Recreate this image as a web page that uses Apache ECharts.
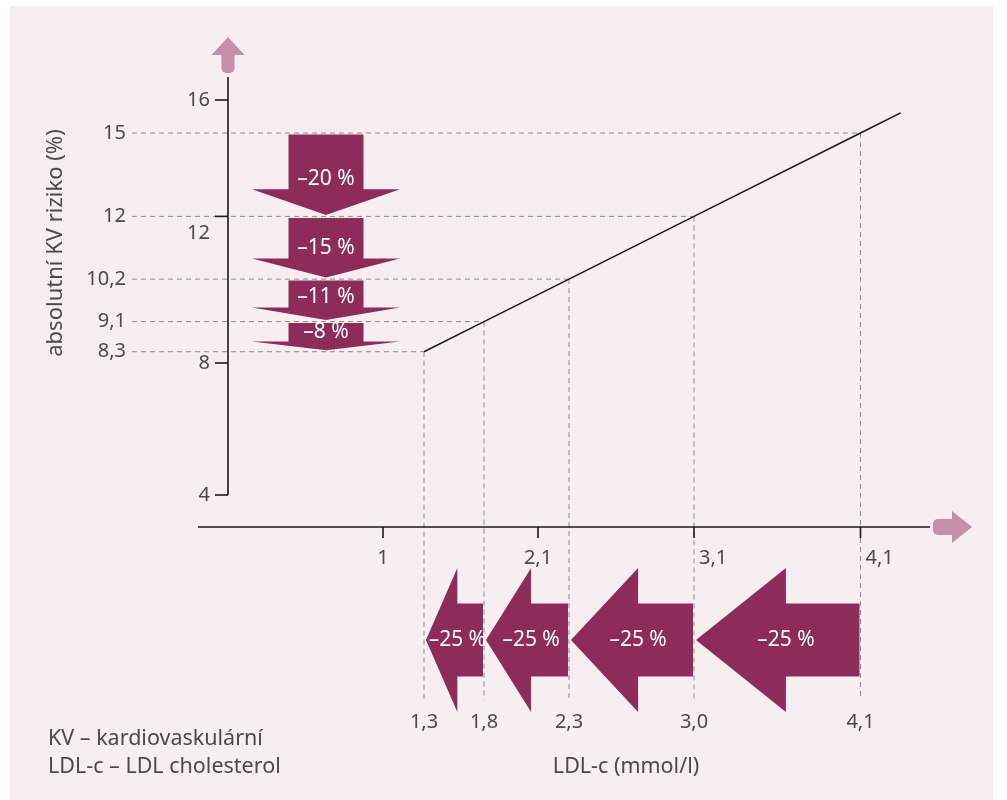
<!DOCTYPE html>
<html>
<head>
<meta charset="utf-8">
<script src="https://cdn.jsdelivr.net/npm/echarts@6/dist/echarts.min.js"></script>
<style>
html,body{margin:0;padding:0;background:#ffffff;}
#chart{width:1007px;height:800px;}
</style>
</head>
<body>
<div id="chart"></div>
<script>
// ================= DATA =================
const ldlLevels = [1.3, 1.8, 2.3, 3.0, 4.1];          // LDL-c (mmol/l)
const ldlLabels = ['1,3', '1,8', '2,3', '3,0', '4,1'];
const riskLevels = [8.3, 9.1, 10.2, 12, 15];           // absolute CV risk (%)
const riskLabels = ['8,3', '9,1', '10,2', '12', '15'];
const ldlReductions = [-25, -25, -25, -25];            // LDL step i+1 -> i
const riskReductions = [-8, -11, -15, -20];            // risk step i+1 -> i
const xTickValues = [1, 2.1, 3.1, 4.1];
const xTickLabels = ['1', '2,1', '3,1', '4,1'];
const yTickValues = [4, 8, 12, 16];
const yTickLabels = ['4', '8', '12', '16'];

// ================= SCHEMATIC AXIS CALIBRATION =================
// The figure's axes are drawn schematically (not linear); these tables
// calibrate value -> axis units for the hidden cartesian axes.
const xCalib = [[0, 228], [1, 383], [1.3, 424], [1.8, 484], [2.1, 538], [2.3, 569], [3.0, 694], [3.1, 694], [4.1, 860.5], [5, 1000]];
const yCalib = [[3, 527], [4, 495], [8, 363], [8.3, 351.7], [9.1, 321.6], [10.2, 279.1], [12, 216.4], [15, 133], [16, 100], [17, 70]];
function piecewise(calib) {
  return function (v) {
    for (let i = 0; i < calib.length - 1; i++) {
      const a = calib[i], b = calib[i + 1];
      if (v <= b[0] || i === calib.length - 2) {
        if (b[0] === a[0]) return b[1];
        return a[1] + (v - a[0]) / (b[0] - a[0]) * (b[1] - a[1]);
      }
    }
  };
}
const xs = piecewise(xCalib);
const ys = piecewise(yCalib);

// ================= LAYOUT / STYLE =================
const W = 1007, H = 800;
const FONT = '"Noto Sans", "DejaVu Sans", sans-serif';
const TEXT = '#4a4a4a';
const DARK = '#8d2c5a';
const PINK = '#c78fa9';
const DASH = '#8c8c8c';
const layout = {
  levelLabelRight: 126, hDashStart: 132, vDashEnd: 700,
  downArrowX: 326, downBodyHalf: 37.5, downHeadHalf: 74, downHeadFrac: 0.32,
  leftArrowY: 640, leftBodyHalf: 36.5, leftHeadHalf: 72, leftHeadFrac: 0.55,
  yAxisTop: 77, xAxisLeft: 198, xAxisRight: 930,
  bottomLabelY: 722, xTickLabelY: 558,
  lineExtend: 0.092
};
function pct(v) { return '\u2013' + Math.abs(v) + ' %'; }

const chart = echarts.init(document.getElementById('chart'), null, {renderer: 'canvas', width: W, height: H});

function txt(text, x, y, opts) {
  return {
    type: 'text',
    style: Object.assign({
      text: text, x: x, y: y, fill: TEXT, fontSize: 20, fontFamily: FONT,
      align: 'center', verticalAlign: 'middle'
    }, opts || {})
  };
}

// guides: dashed lines + level labels
const guideSeries = {
  type: 'custom', name: 'guides', coordinateSystem: 'cartesian2d', silent: true, z: 1,
  data: ldlLevels.map((l, i) => [l, riskLevels[i], i]),
  renderItem: function (params, api) {
    const l = api.value(0), r = api.value(1), i = api.value(2);
    const p = api.coord([xs(l), ys(r)]);
    const left = api.coord([layout.hDashStart, ys(r)]);
    const bottom = api.coord([xs(l), layout.vDashEnd]);
    const ds = {stroke: DASH, lineWidth: 1, lineDash: [5, 4]};
    return {
      type: 'group',
      children: [
        {type: 'line', shape: {x1: left[0], y1: p[1], x2: p[0], y2: p[1]}, style: ds},
        {type: 'line', shape: {x1: p[0], y1: p[1], x2: p[0], y2: bottom[1]}, style: ds},
        txt(riskLabels[i], api.coord([layout.levelLabelRight, 0])[0], p[1], {align: 'right'}),
        txt(ldlLabels[i], p[0], api.coord([0, layout.bottomLabelY])[1])
      ]
    };
  }
};

// risk line (through the level points, slightly extended beyond the last)
const lineSeries = {
  type: 'custom', name: 'risk line', coordinateSystem: 'cartesian2d', silent: true, z: 3,
  data: [[0]],
  renderItem: function (params, api) {
    const pts = ldlLevels.map((l, i) => api.coord([xs(l), ys(riskLevels[i])]));
    const a = pts[0], b = pts[pts.length - 1];
    const e = [b[0] + (b[0] - a[0]) * layout.lineExtend, b[1] + (b[1] - a[1]) * layout.lineExtend];
    return {type: 'polyline', shape: {points: pts.concat([e])}, style: {stroke: '#1a1a1a', lineWidth: 1.6, fill: null}};
  }
};

// downward risk-reduction arrows
const riskArrowSeries = {
  type: 'custom', name: 'risk reduction', coordinateSystem: 'cartesian2d', silent: true, z: 4,
  data: riskReductions.map((p, i) => [riskLevels[i + 1], riskLevels[i], p]),
  renderItem: function (params, api) {
    const hi = api.value(0), lo = api.value(1), p = api.value(2);
    const c = api.coord([layout.downArrowX, ys(hi)]);
    const top = c[1] + 1.5;
    const tip = api.coord([layout.downArrowX, ys(lo)])[1] - 1.5;
    const cx = c[0];
    const base = tip - (tip - top) * layout.downHeadFrac;
    const bw = layout.downBodyHalf, hw = layout.downHeadHalf;
    return {
      type: 'group',
      children: [
        {type: 'polygon', shape: {points: [[cx - bw, top], [cx + bw, top], [cx + bw, base], [cx + hw, base], [cx, tip], [cx - hw, base], [cx - bw, base]]}, style: {fill: DARK}},
        txt(pct(p), cx, base - 10, {fill: '#ffffff', fontSize: 21})
      ]
    };
  }
};

// leftward LDL-reduction arrows
const ldlArrowSeries = {
  type: 'custom', name: 'LDL reduction', coordinateSystem: 'cartesian2d', silent: true, z: 4,
  data: ldlReductions.map((p, i) => [ldlLevels[i + 1], ldlLevels[i], p]),
  renderItem: function (params, api) {
    const from = api.value(0), to = api.value(1), p = api.value(2);
    const c = api.coord([xs(from), layout.leftArrowY]);
    const tail = c[0] - 1;
    const tip = api.coord([xs(to), 0])[0] + 2;
    const cy = c[1];
    const base = tip + (tail - tip) * layout.leftHeadFrac;
    const bh = layout.leftBodyHalf, hh = layout.leftHeadHalf;
    return {
      type: 'group',
      children: [
        {type: 'polygon', shape: {points: [[tail, cy - bh], [tail, cy + bh], [base, cy + bh], [base, cy + hh], [tip, cy], [base, cy - hh], [base, cy - bh]]}, style: {fill: DARK}},
        txt(pct(p), base, cy, {fill: '#ffffff', fontSize: 21})
      ]
    };
  }
};

// axes (schematic), ticks, tick labels, pink arrow heads
const axesSeries = {
  type: 'custom', name: 'axes', coordinateSystem: 'cartesian2d', silent: true, z: 2,
  data: [[0]],
  renderItem: function (params, api) {
    const ch = [];
    const ax = api.coord([xs(0), ys(4)]);
    const yTop = api.coord([0, layout.yAxisTop])[1];
    const xAxisY = api.coord([0, ys(3)])[1];
    const xl = api.coord([layout.xAxisLeft, 0])[0], xr = api.coord([layout.xAxisRight, 0])[0];
    const ls = {stroke: '#1a1a1a', lineWidth: 1.6};
    // y axis
    ch.push({type: 'line', shape: {x1: ax[0], y1: yTop, x2: ax[0], y2: ax[1]}, style: ls});
    yTickValues.forEach((v, i) => {
      const y = api.coord([0, ys(v)])[1];
      ch.push({type: 'line', shape: {x1: ax[0] - 13, y1: y, x2: ax[0], y2: y}, style: ls});
      const shift = riskLevels.indexOf(v) >= 0 ? 17 : 0;
      ch.push(txt(yTickLabels[i], ax[0] - 18, y + shift, {align: 'right'}));
    });
    // x axis
    ch.push({type: 'line', shape: {x1: xl, y1: xAxisY, x2: xr, y2: xAxisY}, style: ls});
    const ldlPos = ldlLevels.map(l => xs(l));
    xTickValues.forEach((v, i) => {
      const x = api.coord([xs(v), 0])[0];
      ch.push({type: 'line', shape: {x1: x, y1: xAxisY, x2: x, y2: xAxisY + 11}, style: ls});
      const onGuide = ldlPos.some(px => Math.abs(px - xs(v)) < 1);
      ch.push(txt(xTickLabels[i], onGuide ? x + 5 : x, api.coord([0, layout.xTickLabelY])[1], {align: onGuide ? 'left' : 'center'}));
    });
    // pink arrow on y axis
    const ay = yTop - 4;
    ch.push({type: 'rect', shape: {x: ax[0] - 6.5, y: ay - 20, width: 13, height: 20, r: [0, 0, 5, 5]}, style: {fill: PINK}});
    ch.push({type: 'polygon', shape: {points: [[ax[0] - 16.5, ay - 18], [ax[0], ay - 36], [ax[0] + 16.5, ay - 18]]}, style: {fill: PINK}});
    // pink arrow on x axis
    const axx = xr + 3;
    ch.push({type: 'rect', shape: {x: axx, y: xAxisY - 8, width: 21, height: 16, r: [5, 0, 0, 5]}, style: {fill: PINK}});
    ch.push({type: 'polygon', shape: {points: [[axx + 19, xAxisY - 16], [axx + 39, xAxisY], [axx + 19, xAxisY + 16]]}, style: {fill: PINK}});
    return {type: 'group', children: ch};
  }
};

const option = {
  animation: false,
  backgroundColor: '#ffffff',
  grid: {left: 0, top: 0, right: 0, bottom: 0},
  xAxis: {type: 'value', min: 0, max: W, show: false},
  yAxis: {type: 'value', min: 0, max: H, inverse: true, show: false},
  graphic: [
    {type: 'rect', z: -10, shape: {x: 10, y: 6, width: 983, height: 794}, style: {fill: '#f6eef1'}},
    {type: 'text', z: 10, x: 56, y: 243, rotation: Math.PI / 2,
      style: {text: 'absolutní KV riziko (%)', fill: TEXT, fontSize: 22, fontFamily: FONT, align: 'center', verticalAlign: 'middle'}},
    {type: 'text', z: 10, x: 48, y: 739,
      style: {text: 'KV \u2013 kardiovaskulární', fill: TEXT, fontSize: 21.5, fontFamily: FONT, align: 'left', verticalAlign: 'middle'}},
    {type: 'text', z: 10, x: 48, y: 767,
      style: {text: 'LDL-c \u2013 LDL cholesterol', fill: TEXT, fontSize: 21.5, fontFamily: FONT, align: 'left', verticalAlign: 'middle'}},
    {type: 'text', z: 10, x: 626, y: 767,
      style: {text: 'LDL-c (mmol/l)', fill: TEXT, fontSize: 21.5, fontFamily: FONT, align: 'center', verticalAlign: 'middle'}}
  ],
  series: [guideSeries, axesSeries, lineSeries, riskArrowSeries, ldlArrowSeries]
};
chart.setOption(option);
</script>
</body>
</html>
